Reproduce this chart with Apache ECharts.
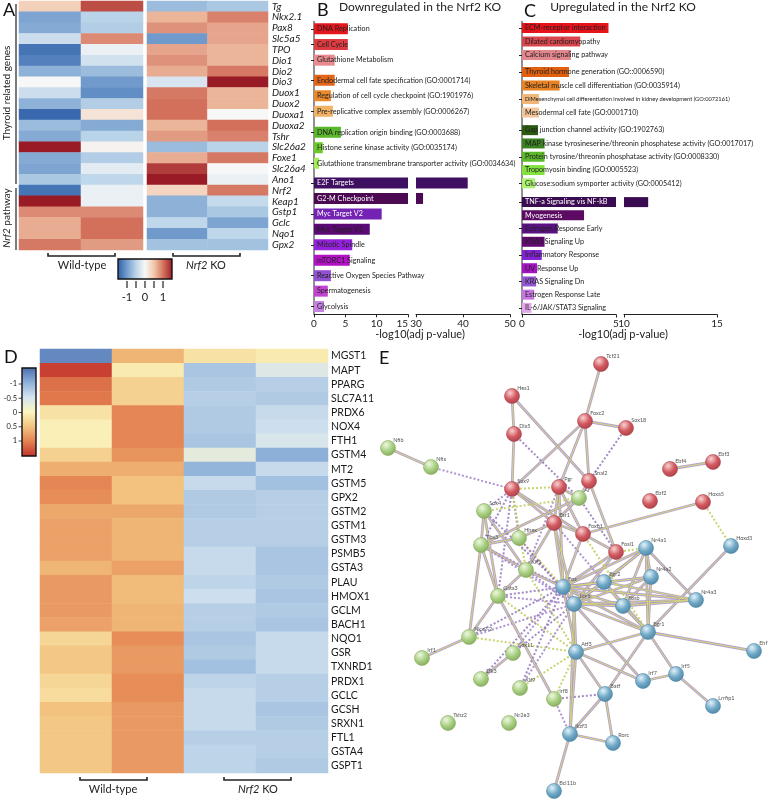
<!DOCTYPE html>
<html>
<head>
<meta charset="utf-8">
<script src="https://cdn.jsdelivr.net/npm/echarts/dist/echarts.min.js"></script>
<style>
html, body { margin: 0; padding: 0; background: #fff; }
#main { width: 771px; height: 802px; }
</style>
</head>
<body>
<div id="main"></div>
<script>
// ---------- A: thyroid / Nrf2 genes, z-score ----------
const aGenes = ['Tg','Nkx2.1','Pax8','Slc5a5','TPO','Dio1','Dio2','Dio3','Duox1','Duox2','Duoxa1','Duoxa2','Tshr','Slc26a2','Foxe1','Slc26a4','Ano1','Nrf2','Keap1','Gstp1','Gclc','Nqo1','Gpx2']
const aWT1 = [0.4,-0.9,-0.85,-0.35,-1.3,-1.2,-0.8,0,-0.35,-0.8,-1.4,-0.7,-0.85,1.5,-0.85,-0.9,-0.6,-1.3,1.5,0.85,0.65,0.65,0.95]
const aWT2 = [1.2,-0.5,-0.55,0.85,-0.1,-0.3,-0.7,-1.0,-1.1,-0.55,0.2,-0.85,-0.5,0.05,-0.55,-0.15,-0.45,-0.1,-0.1,0.85,1.0,1.0,0.75]
const aKO1 = [-0.7,0.6,0.8,-1.0,0.7,0.8,0.65,-0.25,0.95,1.0,1.0,0.6,0.75,-0.7,0.65,1.3,1.5,0.35,-0.8,-0.8,-0.45,-1.0,-0.65]
const aKO2 = [-0.6,0.9,0.7,0.7,0.6,0.6,0.95,1.5,0.6,0.6,0.0,1.0,0.9,-0.5,0.95,0.0,-0.1,0.95,-0.4,-0.6,-0.9,-0.45,-0.65]
const aTicks = [-1, 0, 1]

// ---------- B: downregulated in Nrf2 KO, -log10(adj p) ----------
const bKeggTerms = ['DNA Replication','Cell Cycle','Glutathione Metabolism']
const bKeggVals = [5.4, 5.4, 3.3]
const bBpTerms = ['Endodermal cell fate specification (GO:0001714)','Regulation of cell cycle checkpoint (GO:1901976)','Pre-replicative complex assembly (GO:0006267)']
const bBpVals = [3.3, 2.7, 3.0]
const bMfTerms = ['DNA replication origin binding (GO:0003688)','Histone serine kinase activity (GO:0035174)','Glutathione transmembrane transporter activity (GO:0034634)']
const bMfVals = [4.3, 1.4, 0.8]
const bHallTerms = ['E2F Targets','G2-M Checkpoint','Myc Target V2','Myc Target V1','Mitotic Spindle','mTORC1 Signaling','Reactive Oxygen Species Pathway','Spermatogenesis','Glycolysis']
const bHallVals = [41, 31.5, 10.8, 8.9, 6.1, 5.7, 2.7, 2.2, 1.6]

// ---------- C: upregulated in Nrf2 KO ----------
const cKeggTerms = ['ECM-receptor interaction','Dilated cardiomyopathy','Calcium signaling pathway']
const cKeggVals = [4.6, 3.1, 2.6]
const cBpTerms = ['Thyroid hormone generation (GO::0006590)','Skeletal muscle cell differentiation (GO:0035914)','DiMesenchymal cell differentiation involved in kidney development (GO:0072161)','Mesodermal cell fate (GO:0001710)']
const cBpVals = [2.5, 2.0, 0.9, 0.9]
const cMfTerms = ['Gap junction channel activity (GO:1902763)','MAP kinase tyrosineserine/threonin phosphatese activity (GO:0017017)','Protein tyrosine/threonin phosphatase activity (GO:0008330)','Tropomyosin binding (GO:0005523)','Glucose:sodium symporter activity (GO:0005412)']
const cMfVals = [0.85, 1.2, 1.2, 1.2, 0.7]
const cHallTerms = ['TNF-a Signaling vis NF-kB','Myogenesis','Estrogen Response Early','KRAS Signaling Up','Inflammatory Response','UV Response Up','KRAS Signaling Dn','Estrogen Response Late','IL-6/JAK/STAT3 Signaling']
const cHallVals = [11.3, 3.3, 1.9, 1.2, 1.05, 0.8, 0.75, 0.65, 0.5]

// bar colours (style, kept apart from the values)
const bKeggColors = ['#e3171d','#de3a40','#e98a8f']
const bBpColors = ['#e2661a','#ea8a2c','#f1b264']
const bMfColors = ['#5ab62a','#6cc82a','#a3ec55']
const bHallColors = ['#3f0f62','#4b0a52','#7322b3','#5a0a72','#9422dc','#b012c4','#9250d2','#c342d2','#c682e2']
const cKeggColors = ['#e5141b','#d9454d','#e3878e']
const cBpColors = ['#e0600f','#e88222','#f1b676','#f2c69a']
const cMfColors = ['#2c5c12','#3b8222','#5cb82a','#84e23f','#abf272']
const cHallColors = ['#3b0b52','#5b0b62','#5a1283','#620a72','#8423d4','#a512c4','#9456d2','#c676e2','#e2a6ea']
const whiteText = ['E2F Targets','G2-M Checkpoint','Myc Target V2','TNF-a Signaling vis NF-kB','Myogenesis']

// ---------- D: Nrf2 target genes, z-score ----------
const dGenes = ['MGST1','MAPT','PPARG','SLC7A11','PRDX6','NOX4','FTH1','GSTM4','MT2','GSTM5','GPX2','GSTM2','GSTM1','GSTM3','PSMB5','GSTA3','PLAU','HMOX1','GCLM','BACH1','NQO1','GSR','TXNRD1','PRDX1','GCLC','GCSH','SRXN1','FTL1','GSTA4','GSPT1']
const dWT1 = [-1.3,1.4,1.1,1.05,0.2,0.05,0.05,0.35,0.65,0.95,0.9,0.7,0.75,0.75,0.75,0.6,0.8,0.8,0.8,0.75,0.3,0.45,0.45,0.3,0.25,0.5,0.45,0.45,0.45,0.45]
const dWT2 = [0.6,0.1,0.35,0.35,0.95,0.95,0.95,0.85,0.65,0.5,0.5,0.7,0.6,0.6,0.6,0.75,0.55,0.55,0.6,0.6,0.9,0.8,0.8,0.9,0.9,0.8,0.8,0.8,0.8,0.8]
const dKO1 = [0.2,-0.8,-0.75,-0.7,-0.75,-0.75,-0.8,-0.3,-0.95,-0.6,-0.75,-0.75,-0.7,-0.7,-0.6,-0.6,-0.65,-0.55,-0.7,-0.7,-0.8,-0.75,-0.85,-0.65,-0.6,-0.6,-0.6,-0.7,-0.65,-0.65]
const dKO2 = [0.1,-0.4,-0.7,-0.75,-0.6,-0.55,-0.45,-1.0,-0.6,-0.85,-0.7,-0.7,-0.7,-0.7,-0.8,-0.8,-0.75,-0.8,-0.75,-0.8,-0.6,-0.6,-0.6,-0.7,-0.7,-0.8,-0.75,-0.7,-0.7,-0.75]
const dTicks = [-1, -0.5, 0, 0.5, 1]

// ---------- E: STRING network (layout coordinates) ----------
const eNodes = ['Tcf21','Hes1','Dlx5','Foxc2','Sox18','Sox9','Pgr','Snai2','Ebf4','Ebf3','Ebf2','Hoxa5','Esr1','Foxo1','Fosl1',
  'Nfib','Nfix','Ar','Sox4','Tbx3','Hhex','Klf5','Gata3','Nkx2-2','Sox11','Irf1','Elk3','Klf9','Irf8','Tshz2','Nr2e3',
  'Nr4a1','Hoxd3','Nr4a2','Fos','Egr2','Junb','Fosb','Nr4a3','Egr1','Ehf','Atf3','Irf7','Irf5','Batf','Lrrfip1','Ikzf3','Rorc','Bcl11b']
const eCluster = [0,0,0,0,0,0,0,0,0,0,0,0,0,0,0, 1,1,1,1,1,1,1,1,1,1,1,1,1,1,1,1, 2,2,2,2,2,2,2,2,2,2,2,2,2,2,2,2,2,2]
const eX = [601,512,514,585,626,512,559,589,670,713,650,703,554,583,616, 388,431,579,484,481,519,526,498,469,513,422,481,520,554,448,509, 646,731,651,563,604,574,623,696,648,754,576,643,676,605,713,570,613,554]
const eY = [364,396,434,421,428,489,487,481,469,462,501,502,523,534,552, 448,467,498,511,545,538,570,596,637,653,658,679,688,699,723,723, 548,546,577,587,582,604,606,600,632,651,652,681,674,694,706,734,743,791]
const eSolid = [['Tcf21','Foxc2'],['Hes1','Dlx5'],['Hes1','Snai2'],['Dlx5','Sox9'],['Foxc2','Sox18'],['Foxc2','Sox9'],['Foxc2','Pgr'],['Foxc2','Snai2'],
  ['Nfib','Nfix'],['Ebf4','Ebf3'],['Hoxa5','Foxo1'],['Sox9','Esr1'],['Sox9','Foxo1'],['Pgr','Esr1'],['Pgr','Foxo1'],['Pgr','Fos'],['Pgr','Ar'],
  ['Snai2','Fosl1'],['Snai2','Ar'],['Ar','Tbx3'],['Ar','Esr1'],['Sox4','Tbx3'],['Sox4','Klf5'],['Sox4','Gata3'],['Tbx3','Hhex'],['Tbx3','Gata3'],
  ['Tbx3','Klf5'],['Esr1','Foxo1'],['Esr1','Fos'],['Esr1','Junb'],['Esr1','Klf5'],['Esr1','Hhex'],['Foxo1','Fosl1'],['Foxo1','Fos'],['Fosl1','Junb'],
  ['Fosl1','Fos'],['Nr4a1','Nr4a2'],['Nr4a1','Nr4a3'],['Nr4a1','Egr2'],['Nr4a1','Fosb'],['Nr4a1','Junb'],['Nr4a1','Egr1'],['Nr4a1','Fos'],
  ['Hoxd3','Egr1'],['Nr4a2','Fos'],['Nr4a2','Fosb'],['Nr4a2','Egr1'],['Nr4a2','Junb'],['Fos','Junb'],['Fos','Fosb'],['Fos','Egr2'],['Fos','Atf3'],
  ['Fos','Egr1'],['Fos','Nr4a3'],['Junb','Fosb'],['Junb','Egr1'],['Junb','Atf3'],['Junb','Egr2'],['Junb','Irf7'],['Junb','Ikzf3'],['Junb','Nr4a3'],
  ['Egr2','Fosb'],['Egr2','Egr1'],['Egr2','Nr4a3'],['Fosb','Egr1'],['Fosb','Nr4a3'],['Egr1','Ehf'],['Egr1','Atf3'],['Egr1','Irf5'],['Egr1','Batf'],
  ['Atf3','Ikzf3'],['Atf3','Irf7'],['Atf3','Batf'],['Irf7','Irf5'],['Irf5','Lrrfip1'],['Batf','Ikzf3'],['Batf','Rorc'],['Ikzf3','Rorc'],
  ['Ikzf3','Bcl11b'],['Nkx2-2','Irf1'],['Nkx2-2','Gata3'],['Nkx2-2','Tbx3'],['Sox11','Elk3'],['Gata3','Irf8'],['Gata3','Klf5'],['Klf5','Fos']]
const eDotted = [['Sox18','Snai2'],['Nfix','Sox9'],['Hoxa5','Hoxd3'],['Dlx5','Ar'],['Sox9','Sox4'],['Sox9','Pgr'],['Sox9','Tbx3'],['Sox9','Hhex'],
  ['Sox9','Klf5'],['Sox9','Gata3'],['Pgr','Klf5'],['Fosl1','Nr4a1'],['Sox4','Fos'],['Tbx3','Fos'],['Hhex','Fos'],['Hhex','Junb'],['Klf5','Junb'],
  ['Klf5','Atf3'],['Gata3','Fos'],['Gata3','Junb'],['Gata3','Atf3'],['Nkx2-2','Fos'],['Nkx2-2','Junb'],['Nkx2-2','Atf3'],['Klf9','Fos'],
  ['Klf9','Junb'],['Klf9','Atf3'],['Irf8','Batf'],['Irf8','Ikzf3'],['Irf8','Atf3'],['Sox11','Junb'],['Esr1','Egr2'],['Foxo1','Egr1'],
  ['Ar','Fosl1'],['Tbx3','Junb'],['Sox4','Ar'],['Elk3','Fos'],['Sox11','Fos']]

// ---------- 样式常量 ----------
const FONT = 'Lato, "Open Sans", sans-serif'
const aPalette = ['#2b5ca8','#6f9acb','#b9d3e8','#f7f7f7','#f1c6aa','#d3705c','#991b26']
const dPalette = ['#4a6db0','#8cb0d8','#d4e4f0','#fbf5bd','#f2c27e','#e3804f','#c0302a']
const nodeColors = [
  { hi: '#f8d2d2', base: '#d2575e', edge: '#a8424a' },
  { hi: '#eef8e2', base: '#a7cf80', edge: '#86a95e' },
  { hi: '#e2f2fa', base: '#6ea8c6', edge: '#4d86a4' }
]

const grids = [], xAxes = [], yAxes = [], series = [], graphics = []

function addGrid(rect, xa, ya) {
  const i = grids.length
  grids.push(Object.assign({ outerBoundsMode: 'none' }, rect))
  xAxes.push(Object.assign({ gridIndex: i }, xa))
  yAxes.push(Object.assign({ gridIndex: i }, ya))
  return i
}

function cells(cols) {
  const out = []
  cols.forEach((col, ci) => col.forEach((v, ri) => out.push([ci, ri, v])))
  return out
}

function gradientStops(pal) {
  return pal.map((c, i) => ({ offset: i / (pal.length - 1), color: c }))
}

function txt(x, y, text, o) {
  graphics.push({
    type: 'text', x, y, rotation: (o && o.rotation) || 0, silent: true,
    style: Object.assign({ text, fontFamily: FONT, fontSize: 11, fill: '#222', align: 'left', verticalAlign: 'top' }, o && o.style)
  })
}

function line(x1, y1, x2, y2, w) {
  graphics.push({ type: 'line', silent: true, shape: { x1, y1, x2, y2 }, style: { stroke: '#222', lineWidth: w || 1 } })
}

function bracket(x1, x2, y) {
  graphics.push({ type: 'polyline', silent: true, shape: { points: [[x1, y - 3], [x1, y], [x2, y], [x2, y - 3]] }, style: { stroke: '#222', lineWidth: 1.6, fill: null } })
}

// ---------- A heatmaps ----------
const hide = { show: false }
const gA1 = addGrid({ left: 19, top: 1, width: 124, height: 249 },
  { type: 'category', data: ['WT 1', 'WT 2'], show: false },
  { type: 'category', data: aGenes, inverse: true, show: false })
const gA2 = addGrid({ left: 147, top: 1, width: 121, height: 249 },
  { type: 'category', data: ['KO 1', 'KO 2'], show: false },
  { type: 'category', data: aGenes, inverse: true, position: 'right',
    axisLine: hide, axisTick: hide,
    axisLabel: { interval: 0, fontSize: 10, fontStyle: 'italic', color: '#1a1a1a', margin: 4, fontFamily: FONT } })
series.push({ type: 'heatmap', xAxisIndex: gA1, yAxisIndex: gA1, data: cells([aWT1, aWT2]) })
series.push({ type: 'heatmap', xAxisIndex: gA2, yAxisIndex: gA2, data: cells([aKO1, aKO2]) })

// ---------- D heatmap ----------
const gD = addGrid({ left: 40, top: 349, width: 288, height: 424 },
  { type: 'category', data: ['WT 1', 'WT 2', 'KO 1', 'KO 2'], show: false },
  { type: 'category', data: dGenes, inverse: true, position: 'right',
    axisLine: hide, axisTick: hide,
    axisLabel: { interval: 0, fontSize: 10.5, color: '#1a1a1a', margin: 3, fontFamily: FONT } })
series.push({ type: 'heatmap', xAxisIndex: gD, yAxisIndex: gD, data: cells([dWT1, dWT2, dKO1, dKO2]) })

// ---------- B / C bar groups ----------
function barGroup(terms, vals, colors, rect, xr, opts) {
  const showX = !!opts.showX
  const gi = addGrid(rect,
    { type: 'value', min: xr[0], max: xr[1], interval: 5 * (xr[2] || 1), show: showX,
      axisLine: { show: true, lineStyle: { color: '#222', width: 1 } },
      axisTick: { show: true, length: 3, lineStyle: { color: '#222' } },
      axisLabel: Object.assign({ fontSize: 10, color: '#222', margin: 4, fontFamily: FONT }, opts.axisLabel),
      splitLine: hide },
    { type: 'category', data: terms, inverse: true, show: !opts.noY,
      axisLine: hide, axisLabel: hide,
      axisTick: { show: true, alignWithLabel: true, length: 3, lineStyle: { color: '#222' } } })
  series.push({
    type: 'bar', xAxisIndex: gi, yAxisIndex: gi, barWidth: opts.barWidth, clip: true,
    data: vals.map((v, i) => ({
      value: v,
      itemStyle: { color: colors[i] },
      label: { color: whiteText.indexOf(terms[i]) >= 0 ? '#fff' : '#222', fontSize: terms[i].length > 70 ? 5.7 : 7.2 }
    })),
    label: { show: !opts.noLabel, position: 'insideLeft', distance: 3, formatter: '{b}', fontFamily: FONT }
  })
  return gi
}

// B: 0-15 and broken 30-50
barGroup(bKeggTerms, bKeggVals, bKeggColors, { left: 314, top: 21, width: 94, height: 47 }, [0, 15], { barWidth: 11 })
barGroup(bBpTerms, bBpVals, bBpColors, { left: 314, top: 72.5, width: 94, height: 46.5 }, [0, 15], { barWidth: 11 })
barGroup(bMfTerms, bMfVals, bMfColors, { left: 314, top: 124.5, width: 94, height: 46.5 }, [0, 15], { barWidth: 11 })
barGroup(bHallTerms, bHallVals, bHallColors, { left: 314, top: 175.3, width: 94, height: 139 }, [0, 15],
  { barWidth: 11, showX: true, axisLabel: { alignMaxLabel: 'right' } })
barGroup(bHallTerms, bHallVals, bHallColors, { left: 416, top: 175.3, width: 94, height: 139 }, [30, 50, 2],
  { barWidth: 11, showX: true, noY: true, noLabel: true })

// C: 0-5 and broken 10-15
barGroup(cKeggTerms, cKeggVals, cKeggColors, { left: 522, top: 21.3, width: 94, height: 40.4 }, [0, 5], { barWidth: 10 })
barGroup(cBpTerms, cBpVals, cBpColors, { left: 522, top: 65.3, width: 94, height: 54 }, [0, 5], { barWidth: 10 })
barGroup(cMfTerms, cMfVals, cMfColors, { left: 522, top: 123.5, width: 94, height: 66.5 }, [0, 5], { barWidth: 10 })
barGroup(cHallTerms, cHallVals, cHallColors, { left: 522, top: 195.5, width: 94, height: 119 }, [0, 5],
  { barWidth: 10, showX: true })
barGroup(cHallTerms, cHallVals, cHallColors, { left: 624, top: 195.5, width: 93, height: 119 }, [10, 15],
  { barWidth: 10, showX: true, noY: true, noLabel: true })

// ---------- E network ----------
const gE = addGrid({ left: 380, top: 350, width: 391, height: 452 },
  { type: 'value', min: 380, max: 771, show: false, splitLine: hide },
  { type: 'value', min: 350, max: 802, inverse: true, show: false, splitLine: hide })
const eData = eNodes.map((n, i) => {
  const c = nodeColors[eCluster[i]]
  return {
    name: n, value: [eX[i], eY[i]],
    itemStyle: {
      color: { type: 'radial', x: 0.38, y: 0.3, r: 0.75, colorStops: [{ offset: 0, color: c.hi }, { offset: 0.55, color: c.base }, { offset: 1, color: c.edge }] },
      borderColor: c.edge, borderWidth: 0.6
    }
  }
})
const dotColors = ['#9a7cc0', '#a58acb', '#c4cf62']
series.push({
  type: 'graph', coordinateSystem: 'cartesian2d', xAxisIndex: gE, yAxisIndex: gE, silent: true,
  symbolSize: 1, itemStyle: { opacity: 0 }, label: hide,
  data: eNodes.map((n, i) => ({ name: n, value: [eX[i], eY[i]] })),
  links: eSolid.map(p => ({ source: p[0], target: p[1], lineStyle: { color: '#a993c6', width: 2.8, opacity: 0.85 } }))
    .concat(eDotted.map((p, i) => ({ source: p[0], target: p[1], lineStyle: { color: dotColors[i % 3], width: 2, type: [2, 2], opacity: 0.9 } })))
})
series.push({
  type: 'graph', coordinateSystem: 'cartesian2d', xAxisIndex: gE, yAxisIndex: gE, silent: true,
  symbolSize: 15, data: eData,
  label: { show: true, position: [13, -3], fontSize: 5.5, color: '#555', fontFamily: FONT, formatter: '{b}' },
  links: eSolid.map(p => ({ source: p[0], target: p[1], lineStyle: { color: '#d7df6c', width: 0.9, opacity: 0.95 } }))
})

// ---------- 注释文字、括号、色条 ----------
txt(3, 1, 'A', { style: { fontSize: 18, fill: '#111' } })
txt(317, 1, 'B', { style: { fontSize: 18, fill: '#111' } })
txt(524, 2, 'C', { style: { fontSize: 18, fill: '#111' } })
txt(4, 348, 'D', { style: { fontSize: 18, fill: '#111' } })
txt(379, 349, 'E', { style: { fontSize: 18, fill: '#111' } })

txt(420, 7, 'Downregulated in the Nrf2 KO', { style: { fontSize: 12, align: 'center', verticalAlign: 'middle' } })
txt(623, 7, 'Upregulated in the Nrf2 KO', { style: { fontSize: 12, align: 'center', verticalAlign: 'middle' } })
txt(420, 334, '-log10(adj p-value)', { style: { fontSize: 11, align: 'center', verticalAlign: 'middle' } })
txt(623, 334, '-log10(adj p-value)', { style: { fontSize: 11, align: 'center', verticalAlign: 'middle' } })
line(314, 21, 314, 314.5, 1)
line(522, 21, 522, 314.5, 1)

// A side labels
line(16, 4, 16, 184, 1.2)
line(16, 188, 16, 250, 1.2)
txt(7, 93, 'Thyroid related genes', { rotation: Math.PI / 2, style: { fontSize: 10, align: 'center', verticalAlign: 'middle' } })
txt(7, 218, '{i|Nrf2} pathway', { rotation: Math.PI / 2, style: { fontSize: 10, align: 'center', verticalAlign: 'middle',
  rich: { i: { fontStyle: 'italic', fontSize: 10, fontFamily: FONT, fill: '#222' } } } })

// brackets A
bracket(48, 115, 256)
bracket(173, 240, 256)
txt(82, 265, 'Wild-type', { style: { fontSize: 11, align: 'center', verticalAlign: 'middle' } })
txt(206, 265, '{i|Nrf2} KO', { style: { fontSize: 11, align: 'center', verticalAlign: 'middle',
  rich: { i: { fontStyle: 'italic', fontSize: 11, fontFamily: FONT, fill: '#222' } } } })

// colour bar A (-1.5 .. 1.5 over 118..172)
graphics.push({ type: 'rect', silent: true, shape: { x: 118, y: 259, width: 54, height: 20 },
  style: { fill: new echarts.graphic.LinearGradient(0, 0, 1, 0, gradientStops(aPalette)), stroke: '#111', lineWidth: 1.4 } })
;[-1, -0.5, 0, 0.5, 1].forEach(v => line(145 + v * 18, 281, 145 + v * 18, 288, 1.2))
aTicks.forEach(v => txt(145 + v * 18, 297, String(v), { style: { fontSize: 11, align: 'center', verticalAlign: 'middle' } }))

// brackets D
bracket(80, 147, 780)
bracket(224, 291, 780)
txt(113, 789, 'Wild-type', { style: { fontSize: 11, align: 'center', verticalAlign: 'middle' } })
txt(258, 789, '{i|Nrf2} KO', { style: { fontSize: 11, align: 'center', verticalAlign: 'middle',
  rich: { i: { fontStyle: 'italic', fontSize: 11, fontFamily: FONT, fill: '#222' } } } })

// colour bar D (vertical, -1.55 top .. 1.55 bottom)
graphics.push({ type: 'rect', silent: true, shape: { x: 22, y: 368, width: 14, height: 88 },
  style: { fill: new echarts.graphic.LinearGradient(0, 0, 0, 1, gradientStops(dPalette)), stroke: '#111', lineWidth: 1.4 } })
dTicks.forEach(v => {
  const y = 412.5 + v * 28.5
  line(18.5, y, 22, y, 0.8)
  txt(17, y, String(v), { style: { fontSize: 7.5, align: 'right', verticalAlign: 'middle' } })
})

const option = {
  animation: false,
  backgroundColor: '#fff',
  textStyle: { fontFamily: FONT },
  grid: grids,
  xAxis: xAxes,
  yAxis: yAxes,
  visualMap: [
    { type: 'continuous', show: false, min: -1.5, max: 1.5, seriesIndex: [0, 1], inRange: { color: aPalette } },
    { type: 'continuous', show: false, min: -1.5, max: 1.5, seriesIndex: [2], inRange: { color: dPalette } }
  ],
  series: series,
  graphic: graphics
}

const chart = echarts.init(document.getElementById('main'))
chart.setOption(option)
</script>
</body>
</html>
